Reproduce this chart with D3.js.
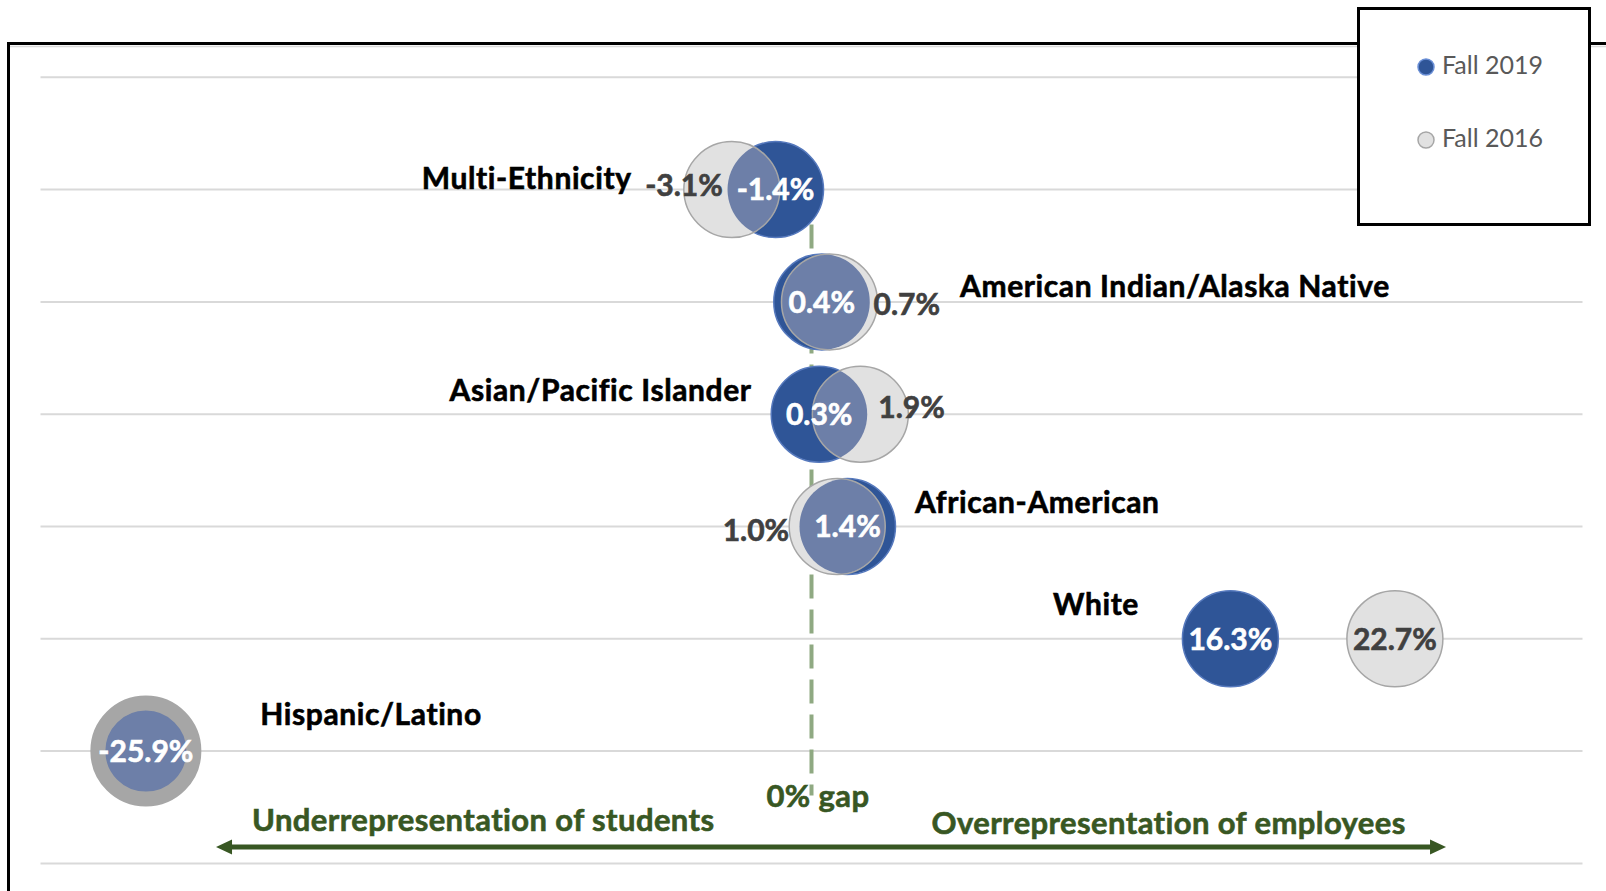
<!DOCTYPE html>
<html>
<head>
<meta charset="utf-8">
<script src="https://cdn.jsdelivr.net/npm/d3@7"></script>
<style>
  html, body { margin: 0; padding: 0; background: #fff; }
  #chart { width: 1606px; height: 891px; }
  text { font-family: Lato, 'Open Sans', sans-serif; }
</style>
</head>
<body>
<div id="chart"></div>
<script>
// rows from bottom (1) to top (6)
var categories = ['Hispanic/Latino', 'White', 'African-American', 'Asian/Pacific Islander', 'American Indian/Alaska Native', 'Multi-Ethnicity'];
var rows = [1, 2, 3, 4, 5, 6];
var fall2019 = [-25.9, 16.3, 1.4, 0.3, 0.4, -1.4];
var fall2016 = [-25.9, 22.7, 1.0, 1.9, 0.7, -3.1];
var seriesNames = ['Fall 2019', 'Fall 2016'];
var arrowLabels = ['Underrepresentation of students', 'Overrepresentation of employees'];
var zeroLabel = '0% gap';

(function() {

  var width = 1606;
  var height = 891;
  var bubbleR = 48;

  var blue = '#2f5597';
  var grey = '#e1e1e1';
  var greyEdge = '#a6a6a6';
  var mixed = '#6d7fa8';
  var green = '#385723';

  // labels were dragged around by hand in the original, so keep their spots here
  var catLabelAt = [
    {x: -21.45, dy: -26, anchor: 'start'},
    {x: 9.4, dy: -24, anchor: 'start'},
    {x: 4.03, dy: -13.5, anchor: 'start'},
    {x: -2.33, dy: -13.5, anchor: 'end'},
    {x: 5.78, dy: -5, anchor: 'start'},
    {x: -7.0, dy: -1, anchor: 'end'}
  ];
  var oldLabelAt = [
    null,
    {dx: 0, dy: 0, anchor: 'middle'},
    {dx: -48, dy: 3.5, anchor: 'end'},
    {dx: 18, dy: -6.7, anchor: 'start'},
    {dx: 44, dy: 2.6, anchor: 'start'},
    {dx: -9, dy: -4, anchor: 'end'}
  ];

  var data = categories.map(function(c, i) {
    return {name: c, row: rows[i], now: fall2019[i], old: fall2016[i], i: i};
  });

  var xScale = d3.scaleLinear().domain([-30, 30]).range([40.5, 1582.5]);
  var yScale = d3.scaleLinear().domain([0, 7]).range([863.4, 77.3]);
  var y0 = yScale(0);

  var svg = d3.select('#chart')
    .append('svg')
    .attr('width', width)
    .attr('height', height);

  var defs = svg.append('defs');

  // gridlines
  svg.append('g')
    .selectAll('line')
    .data(d3.range(0, 8))
    .enter()
    .append('line')
    .attr('x1', xScale(-30))
    .attr('x2', xScale(30))
    .attr('y1', function(d) { return yScale(d) })
    .attr('y2', function(d) { return yScale(d) })
    .attr('stroke', '#d9d9d9')
    .attr('stroke-width', 2);

  // zero gap line
  svg.append('line')
    .attr('x1', xScale(0))
    .attr('x2', xScale(0))
    .attr('y1', yScale(6))
    .attr('y2', y0 - 68)
    .attr('stroke', '#8fa982')
    .attr('stroke-width', 4)
    .attr('stroke-dasharray', '24,11');

  var bubbles = svg.append('g');

  bubbles.selectAll('circle.now')
    .data(data)
    .enter()
    .append('circle')
    .attr('class', 'now')
    .attr('cx', function(d) { return xScale(d.now) })
    .attr('cy', function(d) { return yScale(d.row) })
    .attr('r', bubbleR)
    .attr('fill', blue)
    .attr('stroke', '#5679bd')
    .attr('stroke-width', 1.5);

  bubbles.selectAll('circle.old')
    .data(data)
    .enter()
    .append('circle')
    .attr('class', 'old')
    .attr('cx', function(d) { return xScale(d.old) })
    .attr('cy', function(d) { return yScale(d.row) })
    .attr('r', bubbleR)
    .attr('fill', grey);

  // where the two years overlap
  defs.selectAll('clipPath')
    .data(data)
    .enter()
    .append('clipPath')
    .attr('id', function(d) { return 'clip' + d.i })
    .append('circle')
    .attr('cx', function(d) { return xScale(d.now) })
    .attr('cy', function(d) { return yScale(d.row) })
    .attr('r', bubbleR);

  bubbles.selectAll('circle.mix')
    .data(data)
    .enter()
    .append('circle')
    .attr('class', 'mix')
    .attr('clip-path', function(d) { return 'url(#clip' + d.i + ')' })
    .attr('cx', function(d) { return xScale(d.old) })
    .attr('cy', function(d) { return yScale(d.row) })
    .attr('r', bubbleR)
    .attr('fill', mixed);

  bubbles.selectAll('circle.edge')
    .data(data)
    .enter()
    .append('circle')
    .attr('class', 'edge')
    .attr('cx', function(d) { return xScale(d.old) })
    .attr('cy', function(d) { return yScale(d.row) })
    .attr('r', bubbleR)
    .attr('fill', 'none')
    .attr('stroke', greyEdge)
    .attr('stroke-width', function(d) { return d.now === d.old ? 15 : 1.5 });

  var fmt = function(v) { return v.toFixed(1) + '%' };

  // value labels
  svg.append('g')
    .selectAll('text')
    .data(data)
    .enter()
    .append('text')
    .attr('x', function(d) { return xScale(d.now) })
    .attr('y', function(d) { return yScale(d.row) })
    .attr('dy', '0.36em')
    .attr('text-anchor', 'middle')
    .attr('font-size', 30)
    .attr('font-weight', 'bold')
    .attr('fill', '#fff')
    .attr('stroke', '#fff')
    .attr('stroke-width', 0.6)
    .text(function(d) { return fmt(d.now) });

  svg.append('g')
    .selectAll('text')
    .data(data.filter(function(d) { return oldLabelAt[d.i] }))
    .enter()
    .append('text')
    .attr('x', function(d) { return xScale(d.old) + oldLabelAt[d.i].dx })
    .attr('y', function(d) { return yScale(d.row) + oldLabelAt[d.i].dy })
    .attr('dy', '0.36em')
    .attr('text-anchor', function(d) { return oldLabelAt[d.i].anchor })
    .attr('font-size', 30)
    .attr('font-weight', 'bold')
    .attr('fill', '#404040')
    .attr('stroke', '#404040')
    .attr('stroke-width', 0.6)
    .text(function(d) { return fmt(d.old) });

  // category names
  svg.append('g')
    .selectAll('text')
    .data(data)
    .enter()
    .append('text')
    .attr('x', function(d) { return xScale(catLabelAt[d.i].x) })
    .attr('y', function(d) { return yScale(d.row) + catLabelAt[d.i].dy })
    .attr('text-anchor', function(d) { return catLabelAt[d.i].anchor })
    .attr('font-size', 30)
    .attr('letter-spacing', 0.6)
    .attr('font-weight', 'bold')
    .attr('fill', '#000')
    .attr('stroke', '#000')
    .attr('stroke-width', 0.6)
    .text(function(d) { return d.name });

  // double arrow along the bottom
  var arrowY = y0 - 16.4;
  var ax1 = xScale(-23.17);
  var ax2 = xScale(24.69);
  svg.append('line')
    .attr('x1', ax1 + 10)
    .attr('x2', ax2 - 10)
    .attr('y1', arrowY)
    .attr('y2', arrowY)
    .attr('stroke', green)
    .attr('stroke-width', 5);
  svg.append('path')
    .attr('d', 'M' + ax1 + ',' + arrowY + 'l16,-7.5v15z' + 'M' + ax2 + ',' + arrowY + 'l-16,-7.5v15z')
    .attr('fill', green);

  var notes = svg.append('g')
    .attr('font-size', 31)
    .attr('letter-spacing', 0.4)
    .attr('font-weight', 'bold')
    .attr('fill', green)
    .attr('stroke', green)
    .attr('stroke-width', 0.6);
  notes.append('text')
    .attr('x', xScale(-21.77))
    .attr('y', y0 - 32.7)
    .text(arrowLabels[0]);
  notes.append('text')
    .attr('x', xScale(4.67))
    .attr('y', y0 - 29.4)
    .text(arrowLabels[1]);
  notes.append('text')
    .attr('x', xScale(0.25))
    .attr('y', y0 - 56.7)
    .attr('text-anchor', 'middle')
    .text(zeroLabel);

  // outer frame of the chart area
  svg.append('path')
    .attr('d', 'M8.5,' + (height + 20) + 'V43.5H' + (width + 20))
    .attr('fill', 'none')
    .attr('stroke', '#000')
    .attr('stroke-width', 3);
  svg.append('line')
    .attr('x1', 10)
    .attr('x2', width)
    .attr('y1', 46.5)
    .attr('y2', 46.5)
    .attr('stroke', '#d9d9d9')
    .attr('stroke-width', 1.5);

  // legend
  var legend = svg.append('g');
  legend.append('rect')
    .attr('x', 1358.5)
    .attr('y', 8.5)
    .attr('width', 231)
    .attr('height', 216)
    .attr('fill', '#fff')
    .attr('stroke', '#000')
    .attr('stroke-width', 3);

  var items = legend.selectAll('g.item')
    .data(seriesNames)
    .enter()
    .append('g')
    .attr('class', 'item')
    .attr('transform', function(d, i) { return 'translate(1426,' + (67 + i * 73) + ')' });
  items.append('circle')
    .attr('r', 8)
    .attr('fill', function(d, i) { return i === 0 ? blue : grey })
    .attr('stroke', function(d, i) { return i === 0 ? '#6a8fd6' : greyEdge })
    .attr('stroke-width', 1.5);
  items.append('text')
    .attr('x', 16)
    .attr('y', 7)
    .attr('font-size', 25)
    .attr('fill', '#595959')
    .text(function(d) { return d });

})();
</script>
</body>
</html>
